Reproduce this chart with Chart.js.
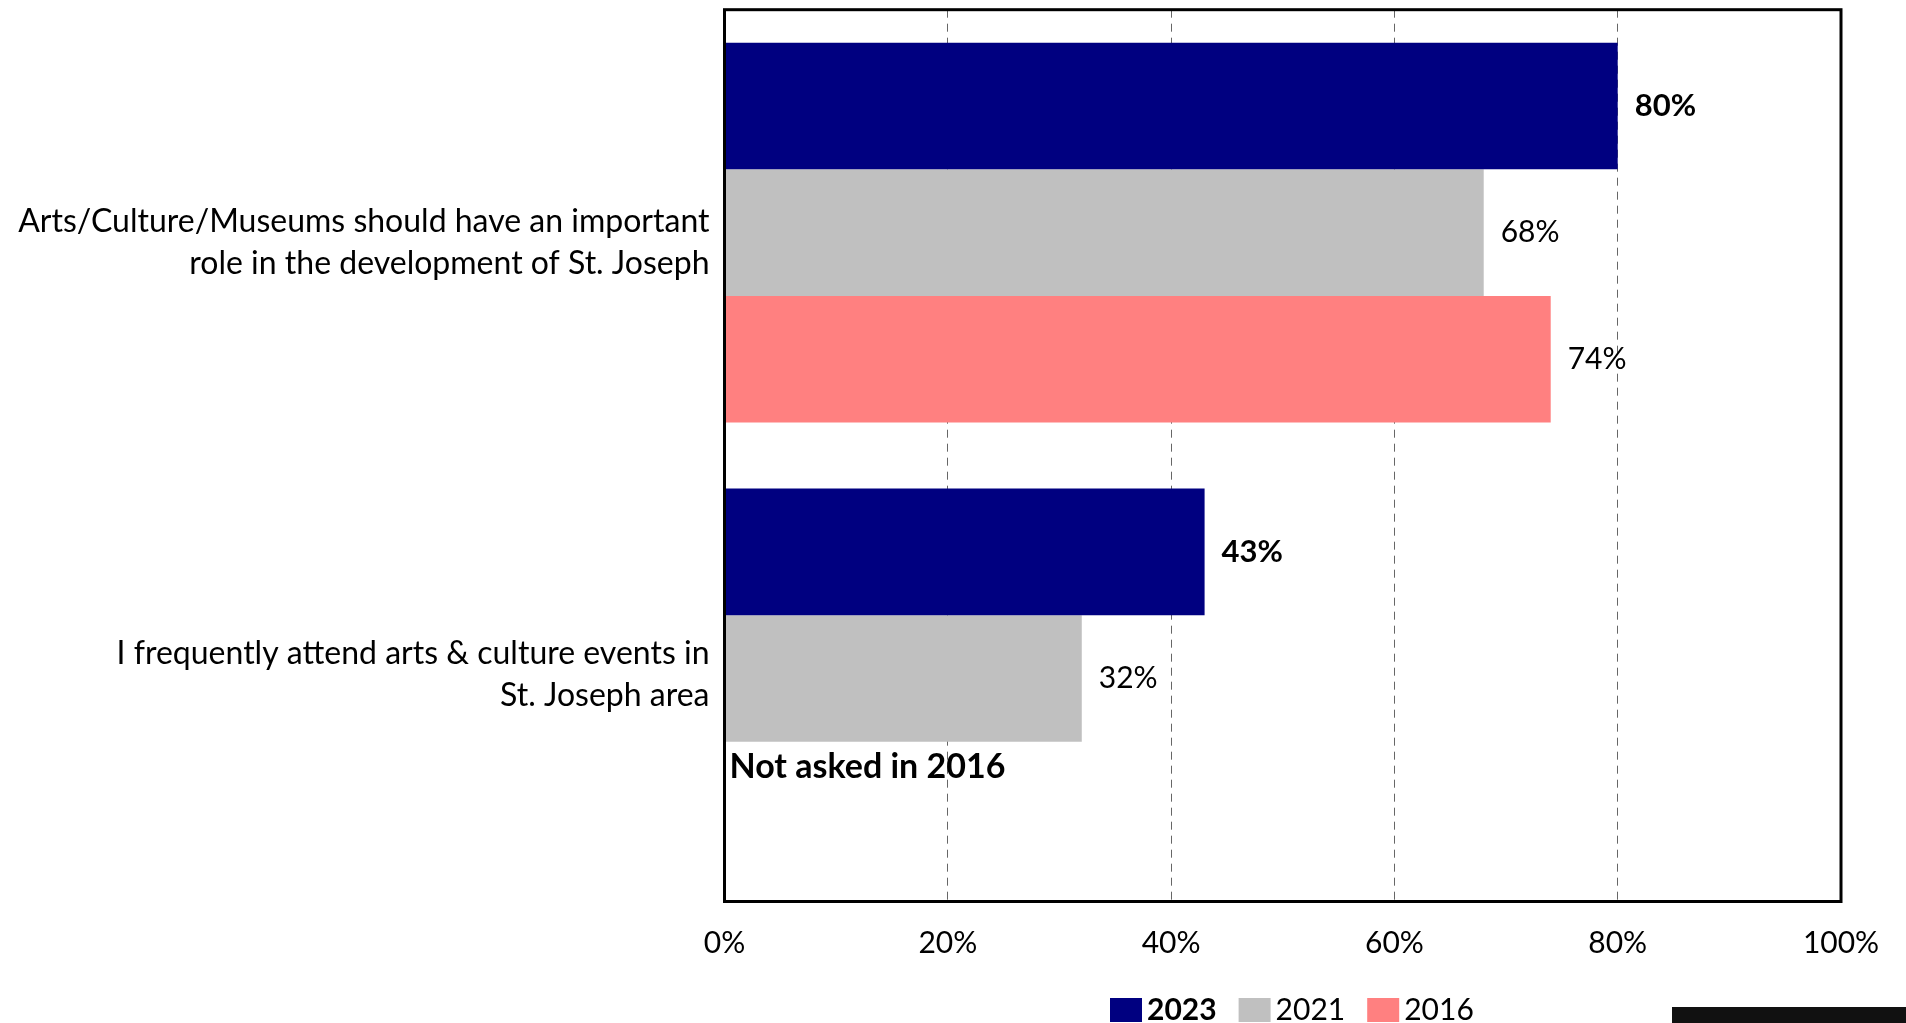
<!DOCTYPE html>
<html>
<head>
<meta charset="utf-8">
<script src="https://cdn.jsdelivr.net/npm/chart.js@4.4.1/dist/chart.umd.min.js"></script>
<style>
  html, body { margin: 0; padding: 0; background: #fff; }
  #wrap { position: relative; width: 1906px; height: 1023px; overflow: hidden; }
  #bar { position: absolute; left: 1672px; top: 1007px; width: 234px; height: 16px; background: #111; }
</style>
</head>
<body>
<div id="wrap">
  <canvas id="c" width="1906" height="1023"></canvas>
  <div id="bar"></div>
</div>
<script>
const categories = [
  ['Arts/Culture/Museums should have an important', 'role in the development of St. Joseph'],
  ['I frequently attend arts & culture events in', 'St. Joseph area']
];
const seriesNames = ['2023', '2021', '2016'];
const values2023 = [80, 43];
const values2021 = [68, 32];
const values2016 = [74, null];
const xTicks = [0, 20, 40, 60, 80, 100];
const noteText = 'Not asked in 2016';

const colors = ['#000080', '#C0C0C0', '#FF8080'];
const FONT = 'Lato';
const FS = 30;
const labelNudge = [10, -4];

const labelsPlugin = {
  id: 'labelsPlugin',
  beforeDraw(chart) {
    // shift only the category label text (bars are already laid out)
    const s = chart.scales.y;
    const base = Object.getPrototypeOf(s).getPixelForTick;
    s.getPixelForTick = function (i) {
      const px = base.call(this, i);
      return px == null ? px : px + (labelNudge[i] || 0);
    };
    s._labelItems = null;
  },
  afterDatasetsDraw(chart) {
    const ctx = chart.ctx;
    ctx.save();
    chart.data.datasets.forEach((ds, i) => {
      const meta = chart.getDatasetMeta(i);
      meta.data.forEach((bar, j) => {
        const v = ds.data[j];
        if (v == null) return;
        ctx.font = (i === 0 ? 'bold 31px ' : '30px ') + FONT;
        ctx.fillStyle = '#000';
        ctx.textAlign = 'left';
        ctx.textBaseline = 'middle';
        ctx.fillText(v + '%', bar.x + 17, bar.y);
      });
    });
    // note for missing 2016 value
    const gMeta = chart.getDatasetMeta(1);
    const gb = gMeta.data[1];
    const p = gb.getProps(['y', 'height'], true);
    ctx.font = 'bold 34px ' + FONT;
    ctx.textAlign = 'left';
    ctx.textBaseline = 'middle';
    ctx.fillText(noteText, chart.scales.x.getPixelForValue(0) + 5, p.y + p.height / 2 + 25);
    // frame
    const a = chart.chartArea;
    ctx.strokeStyle = '#000';
    ctx.lineWidth = 3;
    ctx.strokeRect(a.left, a.top, a.right - a.left, a.bottom - a.top);
    ctx.restore();
  },
  afterDraw(chart) {
    delete chart.scales.y.getPixelForTick;
    const ctx = chart.ctx;
    ctx.save();
    let x = 1110;
    const yc = 1010;
    chart.data.datasets.forEach((ds, i) => {
      ctx.fillStyle = ds.backgroundColor;
      ctx.fillRect(x, yc - 12, 32, 24);
      x += 37;
      ctx.font = (i === 0 ? 'bold ' : '') + '30px ' + FONT;
      ctx.fillStyle = '#000';
      ctx.textAlign = 'left';
      ctx.textBaseline = 'middle';
      ctx.fillText(ds.label, x, yc);
      x += ctx.measureText(ds.label).width + 22;
    });
    ctx.restore();
  }
};

new Chart(document.getElementById('c'), {
  type: 'bar',
  data: {
    labels: categories,
    datasets: [
      { label: seriesNames[0], data: values2023, backgroundColor: colors[0] },
      { label: seriesNames[1], data: values2021, backgroundColor: colors[1] },
      { label: seriesNames[2], data: values2016, backgroundColor: colors[2] }
    ]
  },
  options: {
    indexAxis: 'y',
    responsive: false,
    animation: false,
    devicePixelRatio: 1,
    categoryPercentage: 0.852,
    barPercentage: 1.0,
    layout: { padding: { top: 9.7, right: 65, bottom: 0, left: 0 } },
    plugins: { legend: { display: false }, tooltip: { enabled: false } },
    scales: {
      x: {
        min: 0, max: 100,
        afterBuildTicks(scale) { scale.ticks = xTicks.map(v => ({ value: v })); },
        afterFit(scale) { scale.height = 121.5; scale.paddingLeft = 0; scale.paddingRight = 0; },
        grid: { color: '#666', lineWidth: 1, drawTicks: false },
        border: { display: false, dash: [8, 6] },
        ticks: {
          callback: v => v + '%',
          color: '#000',
          padding: 24,
          font: { family: FONT, size: FS }
        }
      },
      y: {
        afterFit(scale) { scale.width = 724.5; scale.paddingTop = 0; scale.paddingBottom = 0; },
        grid: { display: false },
        border: { display: false },
        ticks: {
          color: '#000',
          padding: 7,
          font: { family: FONT, size: 32, lineHeight: 1.33 }
        }
      }
    }
  },
  plugins: [labelsPlugin]
});
</script>
</body>
</html>
